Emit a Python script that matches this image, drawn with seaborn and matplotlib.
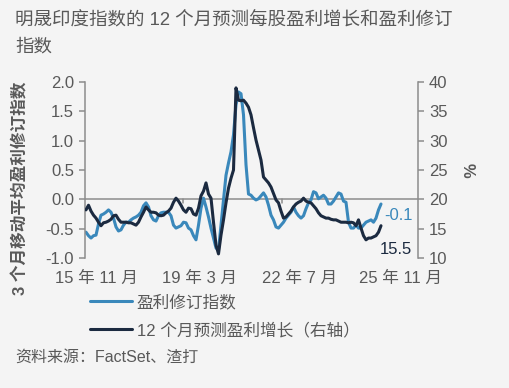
import numpy as np
import pandas as pd
import matplotlib.pyplot as plt
import seaborn as sns

# ==========================================
# 数据 (从图中读取, 按月)
# ==========================================
revision = [-0.56, -0.62, -0.66, -0.62, -0.61, -0.42, -0.27, -0.25, -0.22, -0.18,
            -0.22, -0.32, -0.47, -0.54, -0.52, -0.44, -0.39, -0.39, -0.35, -0.32,
            -0.30, -0.27, -0.22, -0.11, -0.06, -0.13, -0.28, -0.35, -0.37, -0.28,
            -0.23, -0.22, -0.22, -0.22, -0.28, -0.44, -0.49, -0.47, -0.45, -0.39,
            -0.40, -0.49, -0.52, -0.62, -0.69, -0.44, -0.15, 0.02, -0.13, -0.30,
            -0.49, -0.66, -0.83, -0.86, -0.44, -0.01, 0.41, 0.62, 0.81, 1.10,
            1.61, 1.83, 1.80, 1.44, 0.59, 0.09, 0.07, 0.02, -0.01, 0.01,
            0.06, 0.11, 0.04, -0.10, -0.27, -0.35, -0.47, -0.49, -0.44, -0.39,
            -0.32, -0.27, -0.22, -0.13, -0.22, -0.28, -0.32, -0.28, -0.16, -0.06,
            -0.01, 0.13, 0.11, 0.01, 0.04, 0.07, 0.02, -0.08, -0.08, -0.03,
            0.04, 0.11, 0.09, -0.03, -0.05, -0.39, -0.49, -0.49, -0.44, -0.49,
            -0.49, -0.44, -0.39, -0.37, -0.35, -0.39, -0.32, -0.18, -0.08]

eps_growth = [18.2, 19.0, 18.0, 17.3, 16.8, 16.1, 15.5, 16.0, 16.1, 16.3,
              16.6, 17.2, 17.3, 16.6, 16.1, 16.1, 16.1, 16.0, 16.0, 15.8,
              15.6, 16.1, 17.0, 17.8, 18.7, 18.2, 17.8, 17.8, 17.7, 17.3,
              17.2, 17.3, 17.7, 18.0, 18.5, 19.5, 20.2, 19.7, 19.0, 18.2,
              17.8, 18.5, 18.4, 17.5, 17.3, 18.5, 20.6, 21.4, 22.8, 20.9,
              20.2, 16.1, 12.2, 10.7, 13.9, 16.5, 19.4, 21.9, 23.6, 25.0,
              39.0, 36.9, 36.8, 36.9, 36.4, 35.7, 34.4, 32.2, 30.1, 28.4,
              26.7, 23.8, 23.3, 22.8, 22.1, 21.0, 19.9, 19.4, 18.0, 16.8,
              17.0, 17.5, 18.0, 18.7, 19.2, 19.5, 19.7, 20.2, 19.7, 19.5,
              19.4, 18.9, 18.4, 17.7, 17.2, 17.0, 16.8, 16.8, 16.6, 16.5,
              16.5, 16.3, 16.1, 16.1, 16.1, 16.0, 16.1, 16.0, 15.5, 16.5,
              15.1, 13.8, 13.1, 13.4, 13.4, 13.6, 13.8, 14.4, 15.5]

tick_pos = [4, 45.5, 85.5, 126]
tick_labels = ['15 年 11 月', '19 年 3 月', '22 年 7 月', '25 年 11 月']

df = pd.DataFrame({'month': range(len(revision)),
                   'revision': revision,
                   'eps_growth': eps_growth})

# ==========================================
# 样式
# ==========================================
sns.set_style('white')
plt.rcParams['font.family'] = ['Liberation Sans', 'Noto Sans CJK SC']
plt.rcParams['axes.unicode_minus'] = False

bg = '#f4f4f4'
blue = '#3a88bb'
navy = '#1b2a40'
txt = '#595959'
axc = '#8c8c8c'

fig = plt.figure(figsize=(5.1, 3.88), dpi=100, facecolor=bg)
ax = fig.add_axes([85 / 510, 1 - 258 / 388, (418 - 85) / 510, (258 - 82) / 388])
ax.set_facecolor(bg)
ax2 = ax.twinx()

sns.lineplot(data=df, x='month', y='revision', ax=ax, color=blue, lw=2.2,
             label='盈利修订指数', legend=False)
sns.lineplot(data=df, x='month', y='eps_growth', ax=ax2, color=navy, lw=2.2,
             label='12 个月预测盈利增长（右轴）', legend=False)

ax.axhline(0, color=axc, lw=1.1, zorder=0)
for p in [38.8, 78.4]:
    ax.plot([p, p], [0, -0.06], color=axc, lw=1.1)

ax.set_xlim(-0.4, 132.8)
ax.set_ylim(-1.0, 2.0)
ax2.set_ylim(10, 40)
ax.set_yticks(np.arange(-1.0, 2.01, 0.5))
ax.set_yticklabels([f'{v:.1f}' for v in np.arange(-1.0, 2.01, 0.5)])
ax2.set_yticks(range(10, 41, 5))

ax.set_xticks(tick_pos)
ax.set_xticklabels(tick_labels)
ax.tick_params(axis='x', length=0, pad=9, labelsize=12, colors=txt)
ax.tick_params(axis='y', length=4, width=1.1, color=axc, labelsize=12,
               labelcolor=txt, pad=4)
ax2.tick_params(axis='y', length=4, width=1.1, color=axc, labelsize=12,
                labelcolor=txt, pad=4)

for a in (ax, ax2):
    for s in ['top', 'bottom']:
        a.spines[s].set_visible(False)
    a.spines['left'].set_color(axc)
    a.spines['right'].set_color(axc)
    a.spines['left'].set_linewidth(1.1)
    a.spines['right'].set_linewidth(1.1)
ax.spines['right'].set_visible(False)
ax2.spines['left'].set_visible(False)

ax.set_xlabel('')
ax.set_ylabel('')
ax2.set_ylabel('')

# 末端数值标注
ax.text(len(revision) + 0.5, revision[-1] - 0.2, f'{revision[-1]:.1f}',
        color=blue, fontsize=12, va='center', ha='left')
ax2.text(len(eps_growth) - 1.5, eps_growth[-1] - 4.0, f'{eps_growth[-1]:.1f}',
         color=navy, fontsize=12, va='center', ha='left')

# 坐标轴标题
fig.text(20 / 510, 1 - 188 / 388, '3 个月移动平均盈利修订指数', rotation=90,
         ha='center', va='center', fontsize=12, fontweight='bold', color=txt)
fig.text(467 / 510, 1 - 170 / 388, '%', rotation=270,
         ha='center', va='center', fontsize=12, fontweight='bold', color=txt)

# 标题
fig.text(15 / 510, 1 - 21 / 388, '明晟印度指数的 12 个月预测每股盈利增长和盈利修订',
         ha='left', va='center', fontsize=13.3, color=txt)
fig.text(15 / 510, 1 - 47 / 388, '指数',
         ha='left', va='center', fontsize=13.3, color=txt)

# 图例
h1, l1 = ax.get_legend_handles_labels()
h2, l2 = ax2.get_legend_handles_labels()
fig.legend(h1 + h2, l1 + l2, loc='upper left',
           bbox_to_anchor=(90 / 510, 1 - 294 / 388), frameon=False,
           borderpad=0, borderaxespad=0,
           fontsize=12, handlelength=2.5, handletextpad=0.3,
           labelspacing=0.75, labelcolor=txt)

fig.text(15 / 510, 1 - 357 / 388, '资料来源：FactSet、渣打',
         ha='left', va='center', fontsize=11.5, color=txt)

plt.savefig('out.png', dpi=100, facecolor=bg)
plt.close()
